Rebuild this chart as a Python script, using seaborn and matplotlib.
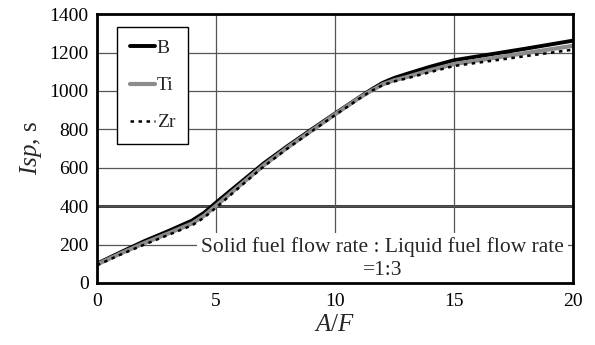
import matplotlib
matplotlib.use("Agg")
import matplotlib.pyplot as plt
import seaborn as sns
import pandas as pd

af = [0, 1, 2, 3, 4, 4.5, 5, 6, 7, 8, 9, 10, 11, 11.5, 12, 12.5, 13, 14, 15, 16, 17, 18, 19, 20]
isp_b = [100, 160, 218, 270, 325, 365, 418, 520, 622, 712, 798, 882, 965, 1005, 1042, 1068, 1088, 1126, 1160, 1180, 1200, 1220, 1241, 1262]
isp_ti = [96, 154, 208, 258, 310, 350, 402, 508, 612, 705, 792, 878, 962, 1000, 1034, 1056, 1072, 1108, 1140, 1159, 1178, 1197, 1216, 1235]
isp_zr = [92, 148, 200, 250, 300, 340, 392, 500, 606, 700, 788, 874, 958, 998, 1030, 1050, 1065, 1098, 1130, 1147, 1164, 1181, 1198, 1215]
series = ["B", "Ti", "Zr"]
note = "Solid fuel flow rate : Liquid fuel flow rate\n=1:3"

sns.set_theme(style="white")
plt.rcParams["font.family"] = ["Liberation Serif", "DejaVu Serif"]
plt.rcParams["mathtext.fontset"] = "custom"
plt.rcParams["mathtext.rm"] = "Liberation Serif"
plt.rcParams["mathtext.it"] = "Liberation Serif:italic"

fig = plt.figure(figsize=(5.95, 3.45), dpi=100)
ax = fig.add_axes([0.163, 0.180, 0.800, 0.779])

df = pd.DataFrame({"af": af * 3,
                   "isp": isp_b + isp_ti + isp_zr,
                   "mat": ["B"] * len(af) + ["Ti"] * len(af) + ["Zr"] * len(af)})

styles = {"B": dict(color="black", lw=2.8, ls="-"),
          "Ti": dict(color="#8c8c8c", lw=3.0, ls="-"),
          "Zr": dict(color="black", lw=1.8, ls=(0, (1.4, 1.8)))}
for s in series:
    sub = df[df["mat"] == s]
    sns.lineplot(data=sub, x="af", y="isp", ax=ax, label=s, color=styles[s]["color"],
                 lw=styles[s]["lw"], linestyle=styles[s]["ls"], zorder=3)

ax.set_xlim(0, 20)
ax.set_ylim(0, 1400)
ax.set_xticks([0, 5, 10, 15, 20])
ax.set_yticks(range(0, 1401, 200))
ax.grid(True, color="#555555", lw=0.9)
ax.axhline(400, color="black", lw=1.8, zorder=0.5)
ax.set_axisbelow(True)
for sp in ax.spines.values():
    sp.set_color("black")
    sp.set_linewidth(2.0)
    sp.set_zorder(6)
ax.tick_params(axis="both", labelsize=14, colors="black", direction="in", length=4, width=0.8,
               bottom=True, left=False)
ax.tick_params(axis="x", pad=7)
ax.tick_params(axis="y", pad=6)
ax.set_xlabel(r"$\mathit{A/F}$", fontsize=18, labelpad=3)
ax.set_ylabel(r"$\mathit{Isp}$, s", fontsize=18, labelpad=4)

ax.text(12.0, 128, note, ha="center", va="center", fontsize=15.5, linespacing=1.3,
        bbox=dict(facecolor="white", edgecolor="none", pad=3), zorder=4)

leg = ax.legend(loc="upper left", bbox_to_anchor=(0.042, 0.952), fontsize=14, frameon=True,
                fancybox=False, edgecolor="black", framealpha=1, handlelength=1.3,
                handletextpad=0.1, labelspacing=1.0, borderpad=0.65, borderaxespad=0)
leg.get_frame().set_linewidth(1.0)

fig.savefig("out.png", dpi=100)
